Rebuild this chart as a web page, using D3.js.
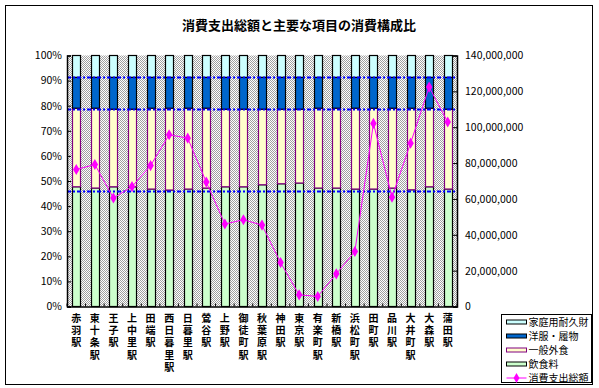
<!DOCTYPE html>
<html>
<head>
<meta charset="utf-8">
<script src="https://cdn.jsdelivr.net/npm/d3@7"></script>
<style>
  body { margin: 0; background: #fff; }
  text { font-family: "Noto Sans CJK JP", "Liberation Sans", sans-serif; }
</style>
</head>
<body>
<div id="chart"></div>
<script>
// stations along the line
const stations = ['赤羽駅', '東十条駅', '王子駅', '上中里駅', '田端駅', '西日暮里駅', '日暮里駅', '鶯谷駅', '上野駅', '御徒町駅', '秋葉原駅',
  '神田駅', '東京駅', '有楽町駅', '新橋駅', '浜松町駅', '田町駅', '品川駅', '大井町駅', '大森駅', '蒲田駅'];

// shares in % (bottom to top)
const food = [47.7, 47.2, 47.7, 47.7, 46.8, 46.4, 46.8, 47.2, 47.7, 47.7, 48.5, 48.9, 49.2, 47.2, 47.2, 46.8, 46.8, 47.2, 46.5, 47.7, 46.8];
const eatingOut = [31.3, 31.8, 30.9, 30.9, 32.2, 32.6, 32.2, 31.8, 30.9, 30.9, 30.1, 29.7, 29.4, 31.8, 31.8, 32.2, 32.2, 31.8, 32.5, 31.3, 31.8];
const clothing = [12.3, 12.3, 12.7, 12.7, 12.3, 12.3, 12.3, 12.3, 12.7, 12.7, 12.7, 12.7, 12.7, 12.3, 12.3, 12.3, 12.3, 12.3, 12.3, 12.3, 12.7];
const durables = food.map((d, i) => +(100 - d - eatingOut[i] - clothing[i]).toFixed(1));

// total consumer spending (yen)
const total = [76400000, 79200000, 60500000, 66900000, 78600000, 95800000, 93900000, 69400000, 46000000, 48400000, 45400000,
  24500000, 6500000, 5600000, 18200000, 30700000, 102100000, 61000000, 91100000, 122400000, 102900000];

// dotted reference levels (%)
const refLevels = [45.8, 78.5, 91.2];

const leftTicks = [0, 10, 20, 30, 40, 50, 60, 70, 80, 90, 100];
const rightTicks = [0, 20000000, 40000000, 60000000, 80000000, 100000000, 120000000, 140000000];

const seriesNames = ['飲食料', '一般外食', '洋服・履物', '家庭用耐久財'];
const seriesFill = ['#ccffcc', '#ffffcc', '#0066cc', '#ccffff'];
const seriesStroke = ['#000', '#800080', '#000', '#000'];

const W = 599, H = 388;
const plot = { left: 67, right: 457, top: 55.5, bottom: 306.5 };

const svg = d3.select('#chart').append('svg')
  .attr('width', W)
  .attr('height', H);

svg.append('rect').attr('width', W).attr('height', H).attr('fill', '#fff');
svg.append('rect')
  .attr('x', 5.5).attr('y', 5.5)
  .attr('width', 587).attr('height', 379)
  .attr('fill', 'none').attr('stroke', '#000');

// checkered gray plot background
const defs = svg.append('defs');
const pat = defs.append('pattern')
  .attr('id', 'checker')
  .attr('width', 2).attr('height', 2)
  .attr('patternUnits', 'userSpaceOnUse');
pat.append('rect').attr('width', 2).attr('height', 2).attr('fill', '#fff');
pat.append('rect').attr('width', 1).attr('height', 1).attr('fill', '#a0a0a0');
pat.append('rect').attr('x', 1).attr('y', 1).attr('width', 1).attr('height', 1).attr('fill', '#a0a0a0');

svg.append('rect')
  .attr('x', plot.left).attr('y', plot.top)
  .attr('width', plot.right - plot.left).attr('height', plot.bottom - plot.top)
  .attr('fill', 'url(#checker)');

svg.append('text')
  .attr('x', 299).attr('y', 30)
  .attr('text-anchor', 'middle')
  .attr('font-size', 13).attr('font-weight', 'bold')
  .text('消費支出総額と主要な項目の消費構成比');

const x = d3.scaleBand()
  .domain(stations)
  .range([plot.left, plot.right])
  .paddingInner(0.57)
  .paddingOuter(0.285);

const yPct = d3.scaleLinear().domain([0, 100]).range([plot.bottom, plot.top]);
const yYen = d3.scaleLinear().domain([0, 140000000]).range([plot.bottom, plot.top]);

// stacked bars
const rows = stations.map((s, i) => ({ station: s, 0: food[i], 1: eatingOut[i], 2: clothing[i], 3: durables[i] }));
const stack = d3.stack().keys([0, 1, 2, 3])(rows);

stack.forEach((layer, k) => {
  svg.append('g').selectAll('rect')
    .data(layer)
    .join('rect')
    .attr('x', d => Math.round(x(d.data.station)) + 0.5)
    .attr('y', d => yPct(d[1]))
    .attr('width', Math.round(x.bandwidth()))
    .attr('height', d => yPct(d[0]) - yPct(d[1]))
    .attr('fill', seriesFill[k])
    .attr('stroke', seriesStroke[k])
    .attr('stroke-width', 1.2);
});

// reference dotted lines
svg.append('g').selectAll('line')
  .data(refLevels)
  .join('line')
  .attr('x1', plot.left).attr('x2', plot.right)
  .attr('y1', d => yPct(d)).attr('y2', d => yPct(d))
  .attr('stroke', '#0000ff')
  .attr('stroke-width', 2)
  .attr('stroke-dasharray', '4 2 2 2');

// axes
const axL = svg.append('g')
  .attr('transform', `translate(${plot.left},0)`)
  .call(d3.axisLeft(yPct).tickValues(leftTicks).tickSize(-4).tickPadding(5).tickFormat(d => d + '%'));
const axR = svg.append('g')
  .attr('transform', `translate(${plot.right},0)`)
  .call(d3.axisRight(yYen).tickValues(rightTicks).tickSize(-4).tickPadding(8).tickFormat(d3.format(',')));
const axB = svg.append('g')
  .attr('transform', `translate(0,${plot.bottom})`)
  .call(d3.axisBottom(x).tickSize(0).tickFormat(''));

[axL, axR, axB].forEach(a => {
  a.select('.domain').attr('stroke', '#000').attr('stroke-width', 1.5);
  a.selectAll('.tick line').attr('stroke', '#000');
  a.selectAll('text').attr('font-size', 10.5).attr('fill', '#000')
    .attr('font-family', '"Liberation Sans", Arial, sans-serif');
});

// category boundary ticks on bottom axis
svg.append('g').selectAll('line')
  .data(d3.range(stations.length + 1))
  .join('line')
  .attr('x1', i => plot.left + i * x.step()).attr('x2', i => plot.left + i * x.step())
  .attr('y1', plot.bottom).attr('y2', plot.bottom - 3)
  .attr('stroke', '#000');

// vertical station labels (top-to-bottom writing)
svg.append('g').selectAll('text')
  .data(stations)
  .join('text')
  .attr('x', d => x(d) + x.bandwidth() / 2)
  .attr('y', 313)
  .style('writing-mode', 'vertical-rl')
  .style('letter-spacing', '2.3px')
  .attr('font-size', 10)
  .attr('font-weight', 'bold')
  .text(d => d);

// total spending line
const line = d3.line()
  .x((d, i) => x(stations[i]) + x.bandwidth() / 2)
  .y(d => yYen(d));

svg.append('path')
  .datum(total)
  .attr('d', line)
  .attr('fill', 'none')
  .attr('stroke', '#ff00ff')
  .attr('stroke-width', 1);

svg.append('g').selectAll('path')
  .data(total)
  .join('path')
  .attr('transform', (d, i) => `translate(${x(stations[i]) + x.bandwidth() / 2},${yYen(d)})`)
  .attr('d', d3.symbol(d3.symbolDiamond, 36))
  .attr('fill', '#ff00ff');

// legend
const legend = svg.append('g').attr('transform', 'translate(501.5,314.5)');
legend.append('rect')
  .attr('width', 90).attr('height', 68)
  .attr('fill', '#fff').attr('stroke', '#000');

const legendItems = [3, 2, 1, 0].map(k => ({ name: seriesNames[k], fill: seriesFill[k], stroke: seriesStroke[k] }));
legendItems.push({ name: '消費支出総額', line: true });

const li = legend.selectAll('g.item')
  .data(legendItems)
  .join('g')
  .attr('class', 'item')
  .attr('transform', (d, i) => `translate(0,${7.5 + i * 14})`);

li.filter(d => !d.line).append('rect')
  .attr('x', 5).attr('y', -2)
  .attr('width', 20).attr('height', 4)
  .attr('fill', d => d.fill).attr('stroke', d => d.stroke);

const ll = li.filter(d => d.line);
ll.append('line')
  .attr('x1', 5).attr('x2', 25).attr('y1', 0).attr('y2', 0)
  .attr('stroke', '#ff00ff');
ll.append('path')
  .attr('transform', 'translate(15,0)')
  .attr('d', d3.symbol(d3.symbolDiamond, 30))
  .attr('fill', '#ff00ff');

li.append('text')
  .attr('x', 27).attr('y', 4)
  .attr('font-size', 10)
  .text(d => d.name);
</script>
</body>
</html>
